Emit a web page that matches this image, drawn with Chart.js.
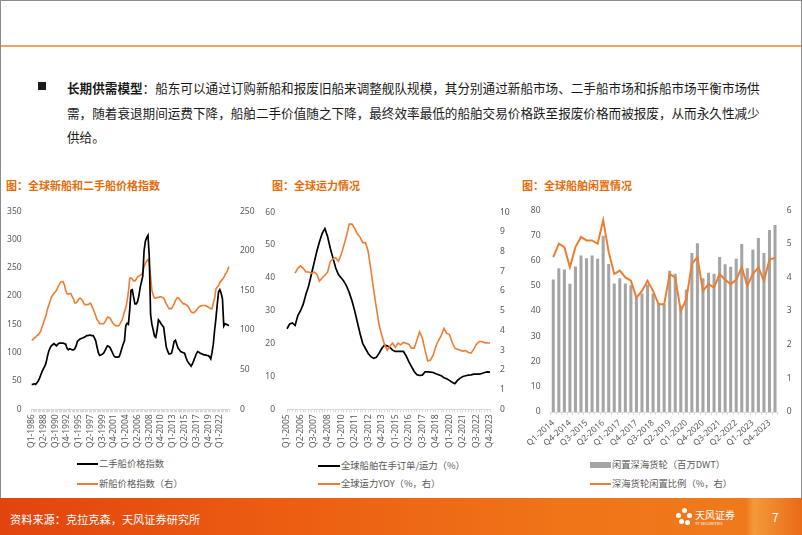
<!DOCTYPE html>
<html>
<head>
<meta charset="utf-8">
<script src="https://cdn.jsdelivr.net/npm/chart.js@4.4.1/dist/chart.umd.min.js"></script>
<style>
  body { margin: 0; width: 802px; height: 535px; position: relative; overflow: hidden; background: #fff;
         font-family: "Noto Sans CJK SC", "Noto Sans", sans-serif; }
  .frame { position: absolute; left: 0; top: 0; width: 800px; height: 533px; border: 1px solid #8c8c8c; border-bottom: none; }
  .rule { position: absolute; left: 1px; top: 45px; width: 800px; height: 2px; background: #f0a060; }
  .bullet { position: absolute; left: 38px; top: 82px; width: 8px; height: 8px; background: #1a1a1a; }
  .para { position: absolute; left: 67px; top: 76px; font-size: 12.6px; line-height: 24.5px; color: #1a1a1a; white-space: nowrap; }
  .para b { font-weight: bold; }
  .title { position: absolute; top: 178px; font-size: 11px; line-height: 14px; font-weight: bold; color: #e46c0a; white-space: nowrap; }
  canvas { position: absolute; top: 195px; }
  .leg { position: absolute; font-size: 9.3px; line-height: 12px; color: #595959; white-space: nowrap; }
  .leg i { display: inline-block; vertical-align: middle; margin-right: 1px; }
  .footer { position: absolute; left: 0; top: 498px; width: 802px; height: 37px;
            background: linear-gradient(90deg, #e2440e 0%, #ec5d12 35%, #f07418 70%, #ef7a1c 93%, #f39a3a 94%, #ea6a18 100%); }
  .src { position: absolute; left: 10px; top: 513px; font-size: 11.2px; line-height: 13px; color: #fff; white-space: nowrap; }
  .logo { position: absolute; left: 676px; top: 508px; width: 60px; height: 20px; color: #fff; }
  .logo .dot { position: absolute; width: 5px; height: 5px; border-radius: 50%; background: #fff; }
  .logo .name { position: absolute; left: 19px; top: 1px; font-size: 10px; line-height: 11px; white-space: nowrap; }
  .logo .sub { position: absolute; left: 19px; top: 13px; font-size: 4px; line-height: 5px; white-space: nowrap; }
  .page { position: absolute; left: 772px; top: 510px; font-size: 12px; line-height: 14px; color: #fff; }
</style>
</head>
<body>
<div class="frame"></div>
<div class="rule"></div>
<div class="bullet"></div>
<div class="para"><b>长期供需模型</b>：船东可以通过订购新船和报废旧船来调整舰队规模，其分别通过新船市场、二手船市场和拆船市场平衡市场供<br>需，随着衰退期间运费下降，船舶二手价值随之下降，最终效率最低的船舶交易价格跌至报废价格而被报废，从而永久性减少<br>供给。</div>

<div class="title" style="left:6px">图：全球新船和二手船价格指数</div>
<div class="title" style="left:272px">图：全球运力情况</div>
<div class="title" style="left:522px">图：全球船舶闲置情况</div>

<canvas id="c1" width="262" height="260" style="left:0px;width:262px;height:260px"></canvas>
<canvas id="c2" width="262" height="260" style="left:262px;width:262px;height:260px"></canvas>
<canvas id="c3" width="302" height="260" style="left:500px;width:302px;height:260px"></canvas>

<div class="leg" style="left:77px;top:457px"><i style="width:21px;height:2px;background:#000"></i>二手船价格指数</div>
<div class="leg" style="left:77px;top:477px"><i style="width:21px;height:2px;background:#ed7d31"></i>新船价格指数（右）</div>
<div class="leg" style="left:318px;top:459px"><i style="width:22px;height:2px;background:#000"></i>全球船舶在手订单/运力（%）</div>
<div class="leg" style="left:318px;top:477px"><i style="width:22px;height:2px;background:#ed7d31"></i>全球运力YOY（%，右）</div>
<div class="leg" style="left:590px;top:458px"><i style="width:21px;height:6px;background:#a5a5a5"></i>闲置深海货轮（百万DWT）</div>
<div class="leg" style="left:590px;top:477px"><i style="width:21px;height:2px;background:#ed7d31"></i>深海货轮闲置比例（%，右）</div>

<div class="footer"></div>
<div class="src">资料来源：克拉克森，天风证券研究所</div>
<div class="logo">
  <div class="dot" style="left:6px;top:0px"></div>
  <div class="dot" style="left:0px;top:5px"></div>
  <div class="dot" style="left:11px;top:5px"></div>
  <div class="dot" style="left:3px;top:11px"></div>
  <div class="dot" style="left:9px;top:12px"></div>
  <div class="name">天风证券</div>
  <div class="sub">TF SECURITIES</div>
</div>
<div class="page">7</div>

<script>
// ---- chart 1: new / second-hand ship price index, quarterly Q1-1986 .. Q4-2023
var usedShipIndex = [
  44, 44, 45, 44, 47, 50, 55, 61, 67, 72, 76, 82, 93, 102, 108, 112,
  114, 116, 114, 112, 115, 117, 117, 117, 117, 116, 115, 108, 105, 107, 106, 105,
  105, 107, 112, 120, 122, 124, 125, 126, 127, 128, 130, 130, 131, 131, 130, 130,
  126, 121, 110, 100, 95, 96, 97, 99, 103, 108, 112, 111, 109, 104, 99, 94,
  92, 92, 92, 93, 100, 108, 115, 121, 148, 152, 150, 175, 210, 211, 198, 186,
  186, 190, 200, 215, 225, 235, 280, 297, 303, 307, 269, 167, 150, 140, 129, 127,
  140, 158, 155, 151, 148, 145, 127, 110, 103, 98, 98, 99, 108, 120, 122, 115,
  108, 105, 102, 101, 100, 99, 92, 86, 82, 79, 76, 80, 86, 92, 98, 102,
  101, 99, 98, 97, 96, 96, 95, 95, 93, 89, 100, 115, 140, 160, 185, 207,
  211, 205, 195, 147, 151, 150, 149, 148
];
var newShipIndex = [
  87, 88, 90, 91, 93, 94, 96, 99, 104, 109, 114, 119, 126, 131, 136, 141,
  144, 146, 148, 150, 154, 157, 160, 161, 161, 157, 150, 146, 145, 146, 146, 142,
  139, 134, 134, 136, 139, 140, 139, 137, 133, 132, 132, 132, 133, 134, 130, 127,
  122, 118, 113, 111, 108, 108, 108, 108, 110, 113, 116, 116, 115, 112, 109, 107,
  106, 105, 105, 106, 109, 112, 117, 123, 128, 136, 148, 165, 166, 164, 162, 162,
  164, 167, 168, 169, 170, 173, 180, 184, 187, 189, 184, 168, 150, 144, 140, 140,
  141, 141, 142, 142, 141, 140, 137, 133, 130, 127, 127, 127, 130, 133, 137, 140,
  141, 139, 137, 135, 133, 133, 132, 131, 129, 126, 123, 122, 122, 123, 125, 127,
  129, 130, 131, 131, 131, 131, 130, 129, 128, 127, 127, 134, 140, 152, 154, 156,
  160, 162, 164, 166, 170, 172, 176, 180
];

// ---- chart 2: orderbook / fleet and fleet growth, quarterly Q1-2005 .. Q4-2023
var orderbookRatio = [
  24.5, 26.0, 26.3, 25.5, 28.5, 30.0, 32.0, 35.0, 37.5, 41.0, 44.5, 48.0, 51.0, 53.5, 55.0, 52.5,
  49.0, 46.0, 43.0, 41.0, 40.0, 39.0, 37.5, 35.5, 33.0, 30.0, 26.5, 23.0, 20.0, 18.5, 17.0, 16.0,
  15.5, 15.8, 17.0, 18.5, 19.5, 19.3, 18.8, 18.0, 17.6, 17.6, 17.6, 17.6, 16.3, 14.5, 13.0, 11.5,
  10.5, 10.3, 10.4, 11.4, 11.4, 11.3, 11.2, 10.8, 10.5, 10.2, 9.6, 9.3, 8.8, 8.2, 7.8, 8.8,
  9.5, 10.0, 10.2, 10.4, 10.5, 10.7, 10.7, 10.7, 10.9, 11.2, 11.4, 11.3
];
var fleetYoy = [
  null, null, null, 6.9, 7.15, 7.27, 7.15, 6.96, 6.96, 6.9, 6.96, 6.86, 6.5, 6.66, 6.8, 6.96,
  7.5, 7.62, 7.69, 7.5, 7.85, 8.3, 8.8, 9.39, 9.39, 9.17, 8.9, 8.72, 8.45, 8.45, 8.0, 7.07,
  6.08, 5.17, 4.3, 3.75, 3.3, 3.0, 3.2, 3.36, 3.15, 3.36, 3.27, 3.39, 3.35, 3.3, 3.1, 3.1,
  3.5, 3.93, 3.6, 3.0, 2.45, 2.5, 2.75, 3.2, 3.5, 3.75, 4.1, 3.85, 3.8, 3.4, 3.1, 3.05,
  3.0, 2.95, 2.98, 2.88, 2.85, 3.05, 3.3, 3.44, 3.44, 3.38, 3.36, 3.36
];

// ---- chart 3: idle deep-sea cargo fleet, quarterly Q1-2014 .. Q1-2024
var idleDwt = [
  52.5, 57.0, 56.5, 50.8, 57.7, 62.0, 60.9, 62.0, 60.7, 69.8, 58.6, 50.9, 53.0, 50.9,
  50.2, 45.5, 47.0, 50.5, 47.0, 43.2, 42.6, 56.0, 54.8, 42.0, 48.5, 63.0, 66.9, 53.0,
  55.2, 54.8, 61.4, 58.5, 57.6, 60.7, 66.6, 57.0, 64.4, 68.9, 63.0, 72.1, 74.1
];
var idleRatio = [
  4.6, 5.0, 4.9, 4.3, 4.9, 5.2, 5.1, 5.1, 5.0, 5.7, 4.75, 4.1, 4.2, 4.0,
  3.9, 3.4, 3.6, 3.9, 3.6, 3.2, 3.2, 4.1, 4.0, 3.0, 3.35, 4.4, 4.6, 3.6,
  3.8, 3.7, 4.1, 3.93, 3.8, 3.93, 4.3, 3.75, 4.1, 4.3, 3.9, 4.53, 4.58
];

// quarter category labels; only every n-th one is printed
function quarterLabels(startYear, count) {
  var out = [];
  for (var i = 0; i < count; i++) {
    out.push('Q' + (i % 4 + 1) + '-' + (startYear + Math.floor(i / 4)));
  }
  return out;
}
var labels1 = quarterLabels(1986, usedShipIndex.length);
var labels2 = quarterLabels(2005, orderbookRatio.length);
var labels3 = quarterLabels(2014, idleDwt.length);
var labelStep1 = 9, labelStep2 = 5, labelStep3 = 3;

var GREY = '#595959';
var ORANGE = '#ed7d31';
var tickFont = { family: 'Noto Sans', size: 8.5 };

function yAxis(pos, max, step, width, pad) {
  return {
    position: pos, min: 0, max: max,
    ticks: { stepSize: step, color: GREY, font: tickFont, padding: pad },
    grid: { display: false, drawTicks: false },
    border: { display: false },
    afterFit: function(s) { s.width = width; }
  };
}

function xAxis(step, rotation, height, pad) {
  return {
    ticks: {
      autoSkip: false, minRotation: rotation, maxRotation: rotation, padding: pad,
      color: GREY, font: tickFont,
      callback: function(v, i) { return i % step === 0 ? this.getLabelForValue(v) : ''; }
    },
    grid: { display: true, drawOnChartArea: false, drawTicks: true, tickLength: 3, color: '#d9d9d9' },
    border: { display: true, color: '#d9d9d9' },
    afterFit: function(s) { s.height = height; }
  };
}

function lineSet(data, color, width, axis) {
  return { type: 'line', data: data, borderColor: color, backgroundColor: color, borderWidth: width,
           pointRadius: 0, tension: 0, yAxisID: axis, order: 0 };
}

var common = {
  responsive: false, animation: false, devicePixelRatio: 1,
  plugins: { legend: { display: false }, tooltip: { enabled: false } }
};

new Chart(document.getElementById('c1'), {
  type: 'line',
  data: {
    labels: labels1,
    datasets: [
      lineSet(usedShipIndex, '#000000', 1.7, 'y'),
      lineSet(newShipIndex, ORANGE, 1.6, 'y1')
    ]
  },
  options: Object.assign({}, common, {
    layout: { padding: { top: 9, left: 0, right: 0, bottom: 0 } },
    scales: {
      x: xAxis(labelStep1, 90, 45.7, 2),
      y: yAxis('left', 350, 50, 31.7, 10),
      y1: yAxis('right', 250, 50, 33, 11)
    }
  })
});

new Chart(document.getElementById('c2'), {
  type: 'line',
  data: {
    labels: labels2,
    datasets: [
      lineSet(fleetYoy, ORANGE, 1.6, 'y1'),
      lineSet(orderbookRatio, '#000000', 1.7, 'y')
    ]
  },
  options: Object.assign({}, common, {
    layout: { padding: { top: 12.7, left: 0, right: 0, bottom: 0 } },
    scales: {
      x: xAxis(labelStep2, 90, 45.7, 2),
      y: yAxis('left', 60, 10, 25, 12),
      y1: yAxis('right', 10, 1, 34, 10)
    }
  })
});

new Chart(document.getElementById('c3'), {
  type: 'bar',
  data: {
    labels: labels3,
    datasets: [
      lineSet(idleRatio, ORANGE, 2, 'y1'),
      { type: 'bar', data: idleDwt, backgroundColor: '#a5a5a5', barPercentage: 0.55,
        categoryPercentage: 1, yAxisID: 'y', order: 1 }
    ]
  },
  options: Object.assign({}, common, {
    layout: { padding: { top: 12.7, left: 0, right: 0, bottom: 0 } },
    scales: {
      x: xAxis(labelStep3, 42, 43, 3),
      y: yAxis('left', 80, 10, 50.5, 10),
      y1: yAxis('right', 6, 1, 24.2, 9)
    }
  })
});
</script>
</body>
</html>
